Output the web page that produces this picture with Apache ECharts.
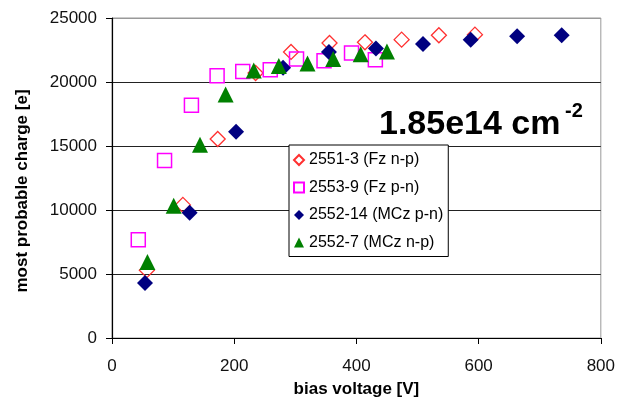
<!DOCTYPE html>
<html>
<head>
<meta charset="utf-8">
<script src="https://cdn.jsdelivr.net/npm/echarts@6/dist/echarts.min.js"></script>
<style>html,body{margin:0;padding:0;background:#fff;}#c{width:618px;height:403px;}</style>
</head>
<body>
<div id="c"></div>
<script>
var seriesNames = ['2551-3 (Fz n-p)', '2553-9 (Fz p-n)', '2552-14 (MCz p-n)', '2552-7 (MCz n-p)'];
var fzNp_V = [57, 116, 173, 235, 293, 356, 414, 474, 535, 594];
var fzNp_Q = [5300, 10400, 15550, 20700, 22350, 23050, 23100, 23310, 23650, 23700];
var fzPn_V = [43, 86, 130, 172, 214, 259, 302, 347, 392, 431];
var fzPn_Q = [7670, 13870, 18190, 20490, 20820, 20960, 21800, 21660, 22270, 21740];
var mczPn_V = [54, 127, 203, 280, 355, 432, 509, 587, 663, 736];
var mczPn_Q = [4290, 9790, 16110, 21120, 22350, 22610, 22970, 23310, 23570, 23650];
var mczNp_V = [58, 101, 144, 186, 232, 273, 320, 362, 407, 450];
var mczNp_Q = [5940, 10340, 15090, 19020, 20900, 21250, 21450, 21800, 22160, 22390];
var xTicks = [0, 200, 400, 600, 800];
var yTicks = [0, 5000, 10000, 15000, 20000, 25000];

function pairs(xs, ys) { return xs.map(function (x, i) { return [x, ys[i]]; }); }

var FONT = '"Liberation Sans", Arial, sans-serif';
var chart = echarts.init(document.getElementById('c'), null, { renderer: 'canvas' });
chart.setOption({
  animation: false,
  backgroundColor: '#fff',
  grid: { left: 112, right: 12, top: 18, bottom: 65, show: true, borderColor: '#999', borderWidth: 1, backgroundColor: 'transparent' },
  xAxis: {
    type: 'value', min: xTicks[0], max: xTicks[xTicks.length - 1], interval: 200,
    name: 'bias voltage [V]', nameLocation: 'middle', nameGap: 43,
    nameTextStyle: { fontFamily: FONT, fontSize: 17, fontWeight: 'bold', color: '#000' },
    axisLine: { show: true, onZero: false, lineStyle: { color: '#000', width: 1.2 } },
    axisTick: { show: true, inside: false, length: 6, lineStyle: { color: '#000' } },
    axisLabel: { fontFamily: FONT, fontSize: 17, color: '#111', margin: 20, formatter: function (v) { return String(v); } },
    splitLine: { show: false }
  },
  yAxis: {
    type: 'value', min: yTicks[0], max: yTicks[yTicks.length - 1], interval: 5000,
    axisLine: { show: true, onZero: false, lineStyle: { color: '#000', width: 1.2 } },
    axisTick: { show: true, inside: false, length: 6, lineStyle: { color: '#000' } },
    axisLabel: { fontFamily: FONT, fontSize: 17, color: '#111', margin: 15, formatter: function (v) { return String(v); } },
    splitLine: { show: true, lineStyle: { color: ['#000', '#222', '#222', '#222', '#222', '#999'], width: 1.2 } }
  },
  legend: {
    orient: 'vertical', left: 289, top: 145,
    padding: [6, 5, 5, 4], itemGap: 9.5, itemWidth: 10, itemHeight: 10,
    backgroundColor: '#fff', borderColor: '#000', borderWidth: 1,
    textStyle: { fontFamily: FONT, fontSize: 16, color: '#000', lineHeight: 18 },
    data: seriesNames
  },
  series: [
    { name: seriesNames[0], type: 'scatter', data: pairs(fzNp_V, fzNp_Q), symbol: 'diamond', symbolSize: 15,
      itemStyle: { color: 'rgba(255,255,255,0)', borderColor: '#ff3030', borderWidth: 1.3, opacity: 1 } },
    { name: seriesNames[1], type: 'scatter', data: pairs(fzPn_V, fzPn_Q), symbol: 'rect', symbolSize: 14,
      itemStyle: { color: 'rgba(255,255,255,0)', borderColor: '#ff00ff', borderWidth: 1.5, opacity: 1 } },
    { name: seriesNames[2], type: 'scatter', data: pairs(mczPn_V, mczPn_Q), symbol: 'diamond', symbolSize: 16,
      itemStyle: { color: '#000080', opacity: 1 } },
    { name: seriesNames[3], type: 'scatter', data: pairs(mczNp_V, mczNp_Q), symbol: 'triangle', symbolSize: 16,
      itemStyle: { color: '#008000', opacity: 1 } }
  ],
  graphic: [
    { type: 'text', x: 22, y: 191, rotation: Math.PI / 2, z: 100,
      style: { text: 'most probable charge [e]', font: 'bold 17px ' + FONT, fill: '#000', align: 'center', verticalAlign: 'middle' } },
    { type: 'text', left: 379, top: 108, z: 100,
      style: { text: '1.85e14 cm', font: 'bold 34px ' + FONT, fill: '#000' } },
    { type: 'text', left: 565, top: 101, z: 100,
      style: { text: '-2', font: 'bold 20px ' + FONT, fill: '#000' } }
  ]
});
</script>
</body>
</html>
